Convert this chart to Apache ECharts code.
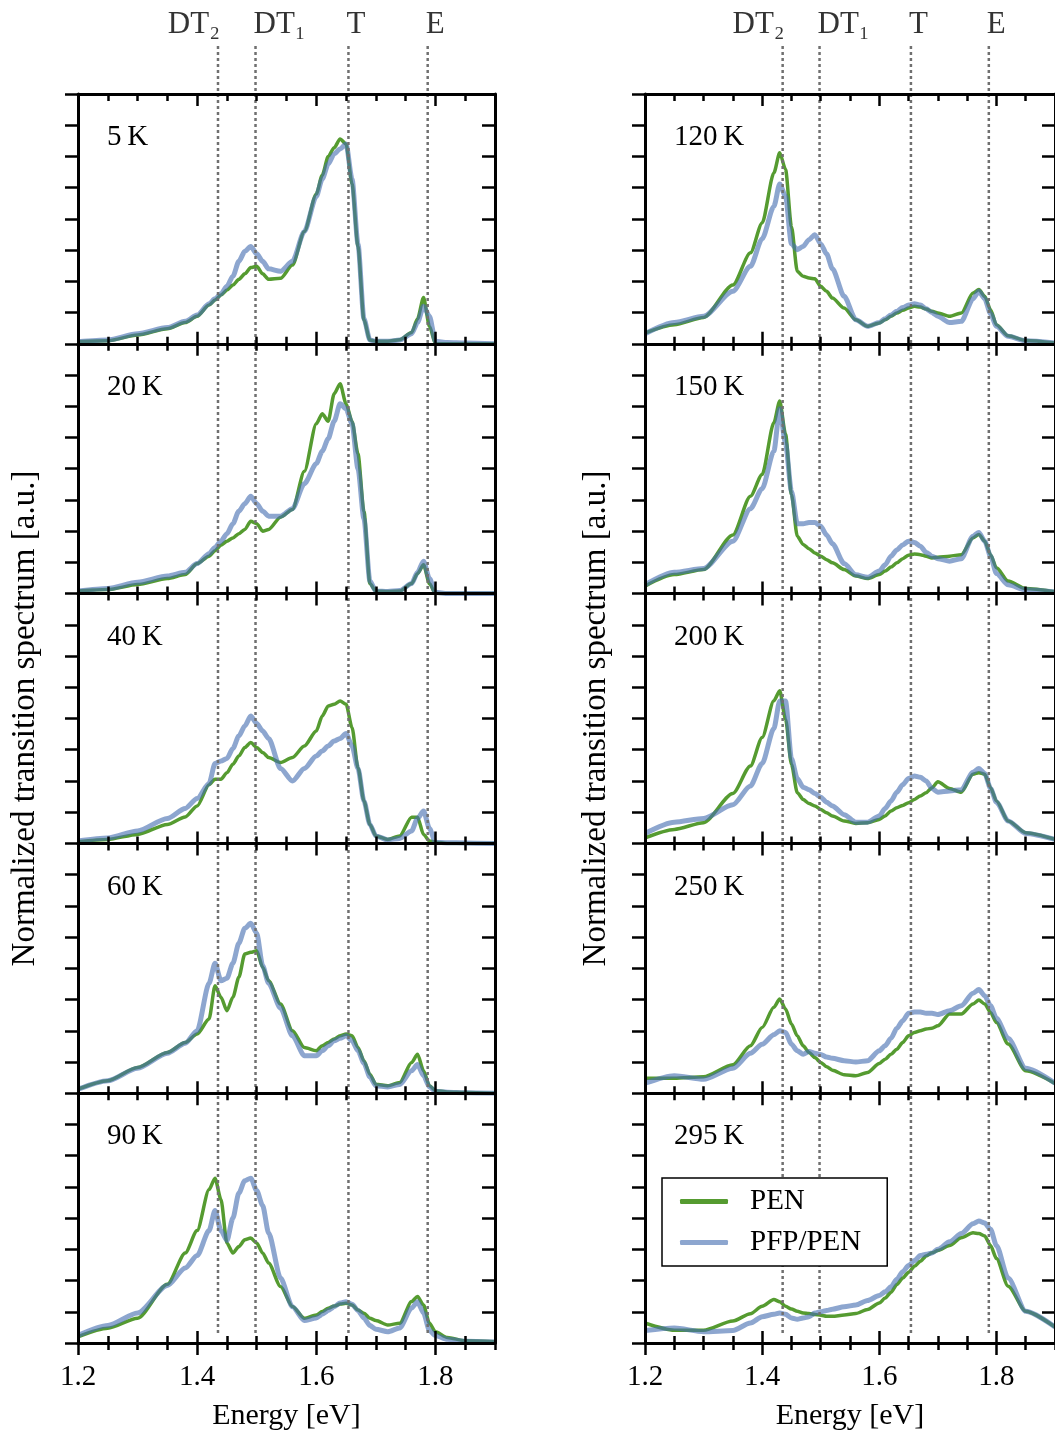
<!DOCTYPE html>
<html>
<head>
<meta charset="utf-8">
<script src="https://cdn.jsdelivr.net/npm/echarts@6/dist/echarts.min.js"></script>
<style>
html, body { margin: 0; padding: 0; background: #fff; }
#myChart { width: 1055px; height: 1433px; }
</style>
</head>
<body>
<div id="myChart"></div>
<script>
// energy grid [eV], shared by every curve
let energy = [1.20, 1.25, 1.30, 1.35, 1.38, 1.40, 1.42, 1.43, 1.44, 1.45, 1.46, 1.47, 1.48, 1.49, 1.50, 1.51, 1.52, 1.54, 1.56, 1.58, 1.60,
              1.61, 1.62, 1.63, 1.64, 1.65, 1.66, 1.67, 1.68, 1.69, 1.70, 1.72, 1.74, 1.76, 1.77, 1.78, 1.79, 1.80, 1.82, 1.85, 1.90]

let temperatures = ['5\u2009K', '20\u2009K', '40\u2009K', '60\u2009K', '90\u2009K', '120\u2009K', '150\u2009K', '200\u2009K', '250\u2009K', '295\u2009K']

// PEN (green)
let pen5   = [0.008,0.012,0.035,0.06,0.085,0.11,0.155,0.175,0.195,0.215,0.235,0.258,0.28,0.305,0.31,0.28,0.258,0.262,0.315,0.45,0.60,0.675,0.75,0.785,0.82,0.80,0.64,0.39,0.095,0.015,0.01,0.01,0.016,0.045,0.10,0.185,0.07,0,0,0,0]
let pen20  = [0.01,0.016,0.036,0.06,0.076,0.12,0.15,0.172,0.194,0.21,0.223,0.24,0.257,0.29,0.28,0.25,0.257,0.306,0.337,0.49,0.68,0.72,0.69,0.80,0.84,0.76,0.69,0.56,0.33,0.04,0.01,0.008,0.01,0.04,0.08,0.115,0.04,0,0,0,0]
let pen40  = [0.007,0.016,0.036,0.076,0.106,0.15,0.235,0.257,0.257,0.283,0.317,0.35,0.384,0.404,0.384,0.364,0.344,0.324,0.344,0.39,0.45,0.51,0.55,0.557,0.57,0.557,0.464,0.303,0.17,0.076,0.03,0.016,0.03,0.105,0.105,0.036,0.01,0.005,0,0,0]
let pen60  = [0.016,0.05,0.103,0.163,0.203,0.237,0.297,0.43,0.384,0.33,0.384,0.464,0.557,0.564,0.57,0.504,0.45,0.357,0.25,0.183,0.17,0.19,0.203,0.217,0.23,0.237,0.23,0.183,0.13,0.076,0.036,0.03,0.043,0.123,0.156,0.09,0.03,0.01,0.005,0.003,0]
let pen90  = [0.025,0.059,0.099,0.235,0.36,0.45,0.614,0.66,0.574,0.40,0.36,0.386,0.413,0.42,0.40,0.36,0.32,0.226,0.146,0.099,0.112,0.126,0.139,0.148,0.156,0.159,0.152,0.132,0.119,0.099,0.09,0.072,0.079,0.166,0.186,0.152,0.079,0.045,0.022,0.009,0.005]
let pen120 = [0.043,0.076,0.105,0.235,0.364,0.484,0.684,0.765,0.698,0.47,0.29,0.27,0.263,0.26,0.23,0.21,0.183,0.143,0.096,0.07,0.083,0.096,0.11,0.123,0.134,0.143,0.15,0.147,0.139,0.13,0.123,0.11,0.123,0.203,0.217,0.19,0.136,0.076,0.032,0.013,0.003]
let pen150 = [0.03,0.076,0.096,0.235,0.39,0.477,0.684,0.771,0.638,0.397,0.23,0.197,0.18,0.163,0.15,0.136,0.123,0.096,0.07,0.06,0.076,0.09,0.106,0.123,0.14,0.154,0.159,0.156,0.15,0.143,0.146,0.15,0.156,0.223,0.237,0.21,0.156,0.103,0.05,0.02,0.007]
let pen200 = [0.022,0.056,0.083,0.20,0.31,0.424,0.571,0.611,0.497,0.317,0.203,0.176,0.16,0.15,0.136,0.123,0.11,0.09,0.08,0.083,0.096,0.11,0.13,0.143,0.152,0.163,0.176,0.19,0.203,0.223,0.247,0.22,0.205,0.277,0.283,0.277,0.223,0.17,0.09,0.043,0.016]
let pen250 = [0.06,0.06,0.066,0.114,0.19,0.263,0.344,0.377,0.337,0.277,0.23,0.19,0.163,0.143,0.123,0.106,0.092,0.074,0.07,0.083,0.119,0.136,0.156,0.176,0.203,0.23,0.243,0.25,0.257,0.26,0.27,0.317,0.317,0.357,0.373,0.357,0.323,0.283,0.197,0.09,0.039]
let pen295 = [0.08,0.051,0.051,0.088,0.117,0.147,0.174,0.165,0.147,0.136,0.127,0.12,0.118,0.114,0.111,0.107,0.107,0.112,0.118,0.134,0.16,0.18,0.203,0.234,0.26,0.283,0.307,0.327,0.348,0.361,0.37,0.39,0.421,0.441,0.438,0.428,0.39,0.338,0.227,0.127,0.064]

// PFP/PEN (blue)
let pfp5   = [0.008,0.015,0.04,0.065,0.09,0.115,0.16,0.18,0.20,0.23,0.27,0.33,0.37,0.39,0.36,0.33,0.30,0.29,0.33,0.45,0.59,0.66,0.72,0.76,0.78,0.80,0.66,0.40,0.10,0.015,0.01,0.01,0.015,0.04,0.085,0.15,0.11,0.01,0.005,0.003,0]
let pfp20  = [0.01,0.02,0.045,0.07,0.085,0.12,0.16,0.185,0.21,0.24,0.28,0.33,0.36,0.39,0.36,0.33,0.31,0.31,0.34,0.44,0.52,0.57,0.62,0.69,0.76,0.74,0.68,0.50,0.30,0.05,0.01,0.008,0.012,0.04,0.085,0.13,0.06,0.005,0,0,0]
let pfp40  = [0.01,0.022,0.05,0.10,0.14,0.18,0.24,0.32,0.33,0.34,0.38,0.43,0.47,0.51,0.48,0.45,0.42,0.30,0.25,0.30,0.35,0.37,0.39,0.41,0.42,0.44,0.39,0.30,0.17,0.076,0.03,0.014,0.02,0.05,0.10,0.13,0.06,0.005,0.003,0.002,0]
let pfp60  = [0.016,0.05,0.10,0.16,0.20,0.25,0.44,0.52,0.45,0.46,0.52,0.60,0.66,0.68,0.64,0.51,0.44,0.34,0.23,0.15,0.15,0.17,0.19,0.21,0.22,0.23,0.21,0.17,0.12,0.065,0.03,0.025,0.035,0.09,0.115,0.07,0.025,0.008,0.004,0.002,0]
let pfp90  = [0.03,0.07,0.12,0.23,0.30,0.35,0.45,0.53,0.45,0.41,0.50,0.60,0.65,0.66,0.61,0.55,0.44,0.26,0.145,0.09,0.10,0.115,0.13,0.145,0.16,0.165,0.155,0.13,0.10,0.07,0.055,0.045,0.06,0.14,0.165,0.12,0.05,0.03,0.015,0.007,0.004]
let pfp120 = [0.04,0.085,0.11,0.21,0.31,0.42,0.55,0.64,0.59,0.40,0.377,0.39,0.417,0.437,0.40,0.36,0.30,0.19,0.096,0.07,0.085,0.10,0.115,0.13,0.145,0.155,0.16,0.155,0.14,0.125,0.11,0.085,0.09,0.18,0.21,0.18,0.12,0.07,0.03,0.012,0.003]
let pfp150 = [0.035,0.085,0.10,0.21,0.34,0.42,0.57,0.74,0.60,0.41,0.28,0.28,0.285,0.285,0.27,0.235,0.20,0.12,0.075,0.065,0.09,0.115,0.15,0.175,0.195,0.21,0.205,0.19,0.165,0.15,0.14,0.13,0.14,0.23,0.245,0.21,0.15,0.08,0.035,0.015,0.006]
let pfp200 = [0.04,0.085,0.10,0.155,0.23,0.32,0.46,0.57,0.57,0.34,0.26,0.225,0.215,0.20,0.185,0.165,0.15,0.115,0.085,0.085,0.11,0.14,0.17,0.205,0.235,0.26,0.27,0.265,0.25,0.22,0.205,0.21,0.215,0.285,0.30,0.28,0.22,0.165,0.09,0.04,0.016]
let pfp250 = [0.04,0.07,0.056,0.10,0.16,0.196,0.234,0.25,0.243,0.196,0.17,0.156,0.167,0.16,0.155,0.145,0.14,0.13,0.125,0.13,0.17,0.19,0.22,0.26,0.29,0.32,0.325,0.325,0.32,0.32,0.315,0.33,0.35,0.40,0.415,0.39,0.35,0.30,0.22,0.10,0.04]
let pfp295 = [0.05,0.06,0.045,0.05,0.08,0.105,0.115,0.12,0.115,0.10,0.095,0.10,0.105,0.12,0.125,0.13,0.135,0.145,0.152,0.17,0.19,0.205,0.225,0.255,0.285,0.31,0.33,0.35,0.355,0.36,0.375,0.405,0.438,0.477,0.488,0.48,0.455,0.39,0.26,0.127,0.064]

let penData = [pen5, pen20, pen40, pen60, pen90, pen120, pen150, pen200, pen250, pen295]
let pfpData = [pfp5, pfp20, pfp40, pfp60, pfp90, pfp120, pfp150, pfp200, pfp250, pfp295]

// reference transitions (dotted lines)
let refEnergy = [1.435, 1.498, 1.654, 1.787]
let refLabels = ['DT\u2082', 'DT\u2081', 'T', 'E']

let myChart = echarts.init(document.getElementById('myChart'))

const font = 'Liberation Serif'
const green = '#559b30'
const blue = 'rgba(69, 110, 176, 0.61)'
const colLeft = [78, 645]
const colWidth = 417
const panelTop = 94
const panelH = 249.8
const yNameGap = [36, 32]

let grid = [], xAxis = [], yAxis = [], series = [], title = []

function xTickAxis(gridIndex, position, interval, len, inside, showLine) {
    return {
        type: 'value', gridIndex: gridIndex, position: position,
        min: 1.2, max: 1.9, interval: interval, z: 6,
        axisLine: { show: showLine, onZero: false, lineStyle: { color: '#000', width: 3 } },
        axisTick: { show: true, inside: inside, length: len, lineStyle: { color: '#000', width: 2.5 } },
        axisLabel: { show: false },
        splitLine: { show: false }
    }
}

function yTickAxis(gridIndex, position, inside) {
    return {
        type: 'value', gridIndex: gridIndex, position: position,
        min: 0, max: 1, interval: 0.125, z: 6,
        axisLine: { show: true, onZero: false, lineStyle: { color: '#000', width: 3 } },
        axisTick: { show: true, inside: inside, length: 13, lineStyle: { color: '#000', width: 2.5 } },
        axisLabel: { show: false },
        splitLine: { show: false }
    }
}

for (let c = 0; c < 2; c++) {
    for (let r = 0; r < 5; r++) {
        let g = c * 5 + r
        let top = panelTop + r * panelH
        grid.push({ left: colLeft[c], top: top, width: colWidth, height: panelH })

        let xBase = xAxis.length
        xAxis.push(xTickAxis(g, 'bottom', 0.2, 12, true, true))
        xAxis.push(xTickAxis(g, 'bottom', 0.05, 7, true, false))
        xAxis.push(xTickAxis(g, 'top', 0.2, 12, true, true))
        xAxis.push(xTickAxis(g, 'top', 0.05, 7, true, false))
        if (r === 4) {
            let major = xTickAxis(g, 'bottom', 0.2, 12, false, false)
            major.axisLabel = {
                show: true, margin: 20, showMaxLabel: false,
                fontFamily: font, fontSize: 29, color: '#000',
                formatter: v => v.toFixed(1)
            }
            major.name = 'Energy [eV]'
            major.nameLocation = 'middle'
            major.nameGap = 58
            major.nameTextStyle = { fontFamily: font, fontSize: 30, color: '#000' }
            xAxis.push(major)
            xAxis.push(xTickAxis(g, 'bottom', 0.05, 7, false, false))
        }

        let yBase = yAxis.length
        let yl = yTickAxis(g, 'left', false)
        if (r === 2) {
            yl.name = 'Normalized transition spectrum [a.u.]'
            yl.nameLocation = 'middle'
            yl.nameGap = yNameGap[c]
            yl.nameTextStyle = { fontFamily: font, fontSize: 33, color: '#000' }
        }
        yAxis.push(yl)
        yAxis.push(yTickAxis(g, 'right', true))

        title.push({
            text: temperatures[g], left: colLeft[c] + 29, top: top + 29, padding: 0,
            textStyle: { fontFamily: font, fontSize: 29, fontWeight: 'normal', color: '#000' }
        })

        series.push({
            name: 'PEN', type: 'line', xAxisIndex: xBase, yAxisIndex: yBase,
            data: energy.map((e, i) => [e, penData[g][i]]),
            symbol: 'none', smooth: 0.25, smoothMonotone: 'x', z: 1,
            lineStyle: { color: green, width: 3.5 }, itemStyle: { color: green }
        })
        series.push({
            name: 'PFP/PEN', type: 'line', xAxisIndex: xBase, yAxisIndex: yBase,
            data: energy.map((e, i) => [e, pfpData[g][i]]),
            symbol: 'none', smooth: 0.25, smoothMonotone: 'x', z: 2,
            lineStyle: { color: blue, width: 5 }, itemStyle: { color: blue }
        })
    }
}

// overlay grids carrying the dotted transition lines and their labels
let overlayBottom = panelTop + 5 * panelH - 10
for (let c = 0; c < 2; c++) {
    let g = grid.length
    grid.push({ left: colLeft[c], top: 43, width: colWidth, height: overlayBottom - 43 })
    let xi = xAxis.length, yi = yAxis.length
    xAxis.push({ type: 'value', gridIndex: g, min: 1.2, max: 1.9, show: false })
    yAxis.push({ type: 'value', gridIndex: g, min: 0, max: 1, show: false })
    refEnergy.forEach(e => {
        series.push({
            type: 'line', xAxisIndex: xi, yAxisIndex: yi, silent: true,
            data: [[e, 0], [e, 1]], symbol: 'none', z: 3,
            lineStyle: { color: '#707070', width: 2.5, type: [3, 3] }
        })
    })
    series.push({
        type: 'scatter', xAxisIndex: xi, yAxisIndex: yi, silent: true,
        symbolSize: 0, z: 3,
        data: refEnergy.map((e, i) => ({
            value: [e, 1],
            label: { align: i === 0 ? 'right' : 'left', offset: [i === 0 ? 2 : -2, 0] }
        })),
        label: {
            show: true, position: 'top', distance: 3,
            formatter: p => refLabels[p.dataIndex],
            fontFamily: font, fontSize: 31, color: '#000'
        }
    })
}

let option = {
    animation: false,
    backgroundColor: '#fff',
    title: title,
    grid: grid,
    xAxis: xAxis,
    yAxis: yAxis,
    legend: {
        data: ['PEN', 'PFP/PEN'],
        orient: 'vertical',
        left: 662, top: 1178,
        padding: [9, 26, 9, 18],
        itemGap: 12, itemWidth: 48, itemHeight: 5,
        icon: 'roundRect',
        backgroundColor: '#fff', borderColor: '#000', borderWidth: 1.5, borderRadius: 0,
        textStyle: { fontFamily: font, fontSize: 29, color: '#000', padding: [0, 0, 0, 17] },
        z: 10
    },
    series: series
}
myChart.setOption(option)

window.addEventListener('resize', () => {
    myChart.resize()
})
</script>
</body>
</html>
